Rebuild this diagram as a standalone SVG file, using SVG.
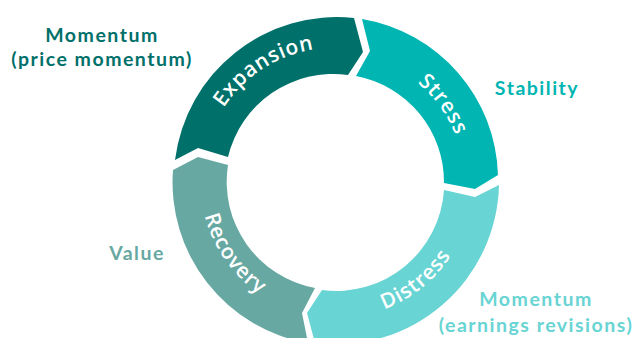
<svg xmlns="http://www.w3.org/2000/svg" width="636" height="338" viewBox="0 0 636 338">
<style>
.seg{stroke:none}
.lbl{font-family:"Open Sans","Liberation Sans",sans-serif;font-weight:600;font-size:21px;fill:#fff;letter-spacing:0.8px}
.out{font-family:Lato,"Liberation Sans",sans-serif;font-weight:700;font-size:19.5px;text-anchor:middle;letter-spacing:1.5px}
</style>
<defs>
<path id="pExp" d="M201.7,189 A134,134 0 0 1 397.3,62.6"/>
<path id="pStr" d="M323.1,54.7 A128,128 0 0 1 453.4,234.1"/>
<path id="pDis" d="M287.8,309 A136,136 0 0 0 470.8,160.7"/>
<path id="pRec" d="M213.2,124.5 A136,136 0 0 0 348.4,317.5"/>
</defs>
<rect width="636" height="338" fill="#fff"/>
<g id="expansion">
<path class="seg" fill="#00706a" d="M175,160 A163,163 0 0 1 354,18 L363,52 L348,75 A108,108 0 0 0 228,157 L198,148 Z"/>
<text class="lbl"><textPath href="#pExp" startOffset="50%" text-anchor="middle">Expansion</textPath></text>
</g>
<g id="stress">
<path class="seg" fill="#00b5b2" d="M362,19 A163,163 0 0 1 498,175 L475,189 L444,183 A108,108 0 0 0 356,76 L370,51 Z"/>
<text class="lbl"><textPath href="#pStr" startOffset="50%" text-anchor="middle">Stress</textPath></text>
</g>
<g id="distress">
<path class="seg" fill="#68d4d3" d="M499,185 A163,163 0 0 1 315,343 L307,313 L322,290 A108,108 0 0 0 444,190 L475,197 Z"/>
<text class="lbl"><textPath href="#pDis" startOffset="50%" text-anchor="middle">Distress</textPath></text>
</g>
<g id="recovery">
<path class="seg" fill="#67a8a2" d="M308,343 A163,163 0 0 1 173,170 L198,157 L228,165 A108,108 0 0 0 315,288 L302,313 Z"/>
<text class="lbl"><textPath href="#pRec" startOffset="50%" text-anchor="middle">Recovery</textPath></text>
</g>
<g id="connectors"></g>
<g id="label-momentum-price" fill="#00706a">
<text class="out" x="102" y="42">Momentum</text>
<text class="out" x="102" y="66">(price momentum)</text>
</g>
<g id="label-stability" fill="#00b5b2">
<text class="out" x="537" y="95">Stability</text>
</g>
<g id="label-value" fill="#67a8a2">
<text class="out" x="137" y="260">Value</text>
</g>
<g id="label-momentum-earnings" fill="#68d4d3">
<text class="out" x="536" y="306">Momentum</text>
<text class="out" x="536" y="332">(earnings revisions)</text>
</g>
</svg>
